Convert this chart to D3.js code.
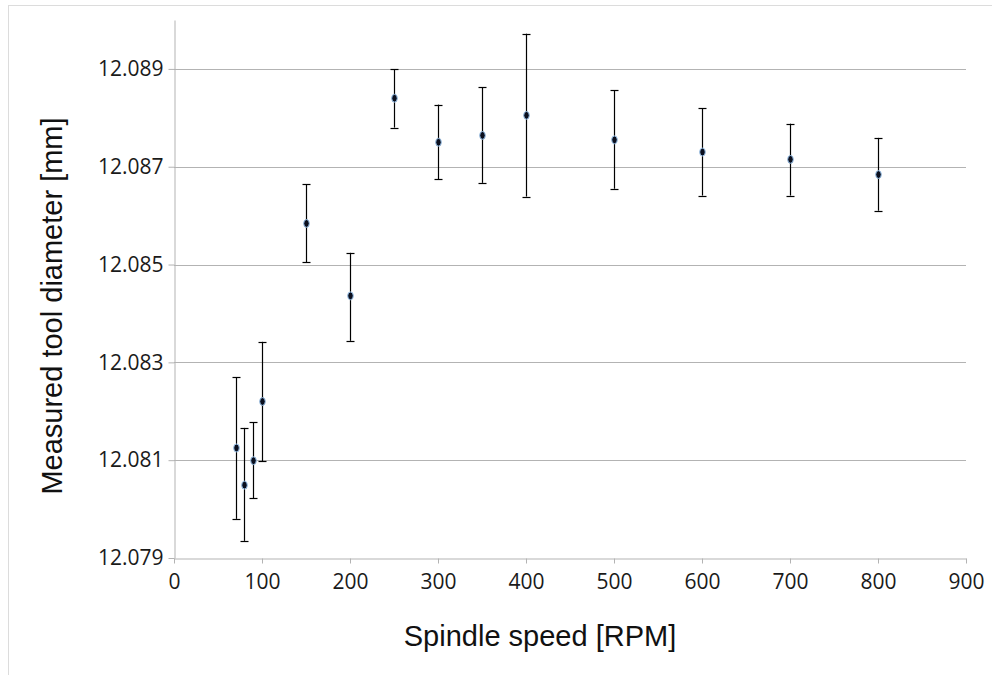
<!DOCTYPE html>
<html>
<head>
<meta charset="utf-8">
<script src="https://cdn.jsdelivr.net/npm/d3@7"></script>
<style>
  body { margin: 0; background: #fff; }
  svg { display: block; font-family: "Open Sans", sans-serif; }
</style>
</head>
<body>
<div id="chart"></div>
<script>
// Spindle speed [RPM]
const speeds = [70, 80, 90, 100, 150, 200, 250, 300, 350, 400, 500, 600, 700, 800];
// Measured diameter [mm], mean and error bar ends
const diameters = [12.08125, 12.08049, 12.08099, 12.08220, 12.08584, 12.08436, 12.08840,
  12.08750, 12.08764, 12.08805, 12.08755, 12.08730, 12.08715, 12.08684];
const errLow = [12.07980, 12.07935, 12.08022, 12.08098, 12.08505, 12.08344, 12.08780,
  12.08674, 12.08667, 12.08639, 12.08655, 12.08641, 12.08641, 12.08610];
const errHigh = [12.08270, 12.08166, 12.08178, 12.08342, 12.08664, 12.08524, 12.08899,
  12.08827, 12.08863, 12.08972, 12.08856, 12.08820, 12.08788, 12.08759];

const xTicks = [0, 100, 200, 300, 400, 500, 600, 700, 800, 900];
const yTicks = [12.079, 12.081, 12.083, 12.085, 12.087, 12.089];

const data = speeds.map((s, i) => ({ x: s, y: diameters[i], lo: errLow[i], hi: errHigh[i] }));

const width = 992;
const height = 675;
const margin = { top: 20, right: 26, bottom: 117, left: 174 };

const svg = d3.select('#chart')
  .append('svg')
  .attr('width', width)
  .attr('height', height);

// light frame
svg.append('rect')
  .attr('x', 8.5).attr('y', 5.5)
  .attr('width', width).attr('height', height)
  .attr('fill', 'none')
  .attr('stroke', '#dcdcdc');

const xScale = d3.scaleLinear()
  .domain([0, 900])
  .range([margin.left, width - margin.right]);

const yScale = d3.scaleLinear()
  .domain([12.079, 12.090])
  .range([height - margin.bottom, margin.top]);

// gridlines
svg.append('g')
  .selectAll('line')
  .data(yTicks.slice(1))
  .enter()
  .append('line')
  .attr('x1', xScale(0))
  .attr('x2', xScale(900))
  .attr('y1', d => Math.round(yScale(d)) + 0.5)
  .attr('y2', d => Math.round(yScale(d)) + 0.5)
  .attr('stroke', '#b3b3b3');

// x axis
const xAxis = svg.append('g')
  .attr('transform', `translate(0, ${Math.round(yScale(12.079)) + 0.5})`)
  .call(d3.axisBottom(xScale).tickValues(xTicks).tickSize(5).tickSizeOuter(0).tickPadding(11));

// y axis
const yAxis = svg.append('g')
  .attr('transform', `translate(${Math.round(xScale(0)) + 0.5}, 0)`)
  .call(d3.axisLeft(yScale).tickValues(yTicks).tickFormat(d3.format('.3f'))
    .tickSize(6).tickSizeOuter(0).tickPadding(5));

[xAxis, yAxis].forEach(ax => {
  ax.select('.domain').attr('stroke', '#b3b3b3');
  ax.selectAll('.tick line').attr('stroke', '#b3b3b3');
  ax.selectAll('.tick text')
    .attr('fill', '#1a1a1a')
    .style('font-size', '21px')
    .style('font-family', '"Open Sans", sans-serif');
});

// error bars
const bars = svg.append('g');
bars.selectAll('line.stem')
  .data(data)
  .enter()
  .append('line')
  .attr('class', 'stem')
  .attr('x1', d => Math.round(xScale(d.x)) + 0.5)
  .attr('x2', d => Math.round(xScale(d.x)) + 0.5)
  .attr('y1', d => yScale(d.lo))
  .attr('y2', d => yScale(d.hi))
  .attr('stroke', '#000')
  .attr('stroke-width', 1.2);

['lo', 'hi'].forEach(k => {
  bars.selectAll('line.cap-' + k)
    .data(data)
    .enter()
    .append('line')
    .attr('class', 'cap-' + k)
    .attr('x1', d => Math.round(xScale(d.x)) - 3.5)
    .attr('x2', d => Math.round(xScale(d.x)) + 4.5)
    .attr('y1', d => Math.round(yScale(d[k])) + 0.5)
    .attr('y2', d => Math.round(yScale(d[k])) + 0.5)
    .attr('stroke', '#000')
    .attr('stroke-width', 1.2);
});

// points
svg.append('g')
  .selectAll('ellipse')
  .data(data)
  .enter()
  .append('ellipse')
  .attr('cx', d => Math.round(xScale(d.x)) + 0.5)
  .attr('cy', d => yScale(d.y))
  .attr('rx', 2.8)
  .attr('ry', 3.9)
  .attr('fill', '#0b0f1e')
  .attr('stroke', '#9cc6ef')
  .attr('stroke-width', 1);

// axis titles
svg.append('text')
  .attr('x', 540)
  .attr('y', 646)
  .attr('text-anchor', 'middle')
  .attr('fill', '#111')
  .style('font-family', '"Liberation Sans", Arial, sans-serif')
  .style('font-size', '29px')
  .text('Spindle speed [RPM]');

svg.append('text')
  .attr('transform', 'translate(62, 306) rotate(-90)')
  .attr('text-anchor', 'middle')
  .attr('fill', '#111')
  .style('font-family', '"Liberation Sans", Arial, sans-serif')
  .style('font-size', '29px')
  .text('Measured tool diameter [mm]');
</script>
</body>
</html>
